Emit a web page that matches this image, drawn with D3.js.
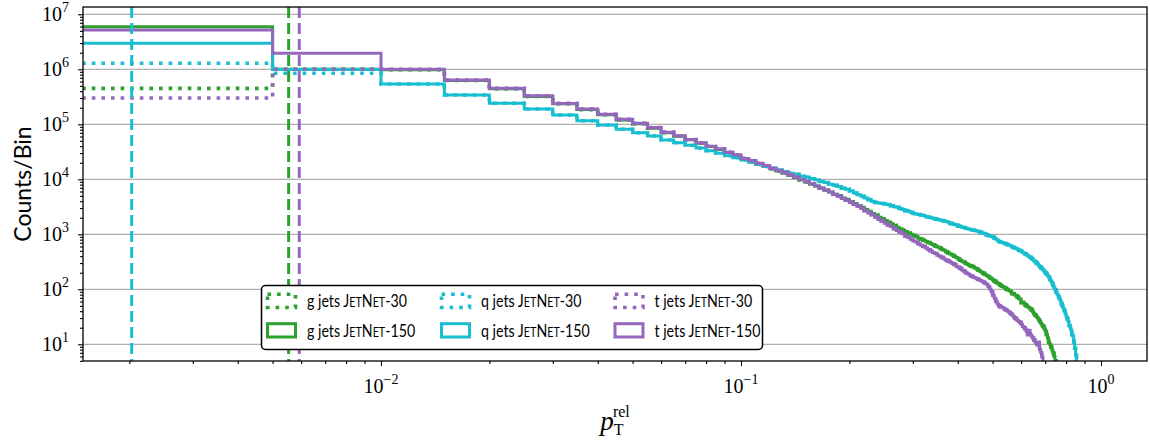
<!DOCTYPE html>
<html>
<head>
<meta charset="utf-8">
<script src="https://cdn.jsdelivr.net/npm/d3@7"></script>
<style>
  body { margin: 0; background: #fff; }
  svg { display: block; }
</style>
</head>
<body>
<div id="wrapper"></div>
<script>
// histogram bins: uniform width in p_T^rel, starting at 0
const binWidth = 0.005;

// first two bins differ between JetNet-30 and JetNet-150, the rest overlap
const g30Head = [450000, 1000000];
const g150Head = [5960000, 1000000];
const gTail = [980000, 625000, 442000, 320000, 236000, 185000, 149000, 120000, 102000, 84700,
  70000, 60700, 52100, 45200, 39400, 34800, 30600, 27000, 23400, 21400,
  19100, 17400, 15500, 14100, 12900, 11700, 10700, 9770, 8910, 8130,
  7590, 6920, 6310, 5890, 5370, 5010, 4570, 4270, 3890, 3630,
  3310, 3090, 2820, 2630, 2400, 2240, 2040, 1910, 1780, 1660,
  1550, 1450, 1350, 1260, 1200, 1120, 1050, 1000, 955, 912,
  851, 813, 776, 741, 708, 676, 646, 617, 589, 562,
  537, 513, 479, 457, 437, 417, 398, 380, 355, 339,
  324, 309, 295, 282, 269, 263, 257, 245, 234, 224,
  214, 204, 195, 186, 178, 170, 162, 155, 148, 141,
  135, 129, 123, 117, 112, 110, 105, 100, 98, 95,
  91, 83, 85, 79, 76, 72, 68, 66, 57, 59,
  56, 52, 50, 48, 46, 44, 42, 39, 36, 34,
  32, 30, 28, 26, 24, 22, 21, 19, 17, 15,
  13, 11, 10, 8.9, 7.9, 6.9, 6.0, 5.0, 4.0];

const q30Head = [1290000, 850000];
const q150Head = [2970000, 990000];
const qTail = [540000, 341000, 241000, 190000, 148000, 116000, 97000, 81100, 70300, 61200,
  51900, 46200, 41500, 37100, 33100, 29700, 26900, 24700, 22400, 20400,
  18600, 17000, 15800, 14800, 13800, 12900, 12300, 11500, 11000, 10200,
  9770, 9120, 8710, 8130, 7760, 7410, 6920, 6610, 6170, 5620,
  5250, 4900, 4570, 4270, 3980, 3800, 3720, 3630, 3550, 3470,
  3310, 3160, 3090, 2950, 2820, 2690, 2630, 2510, 2400, 2340,
  2290, 2240, 2190, 2090, 2040, 2000, 1950, 1910, 1860, 1820,
  1780, 1740, 1700, 1660, 1580, 1550, 1510, 1480, 1410, 1380,
  1350, 1320, 1290, 1260, 1230, 1200, 1190, 1170, 1150, 1120,
  1100, 1070, 1050, 1020, 977, 955, 933, 912, 891, 851,
  813, 776, 741, 724, 708, 692, 676, 661, 646, 631,
  617, 589, 575, 562, 550, 537, 513, 501, 490, 468,
  457, 437, 427, 407, 389, 380, 363, 347, 331, 316,
  302, 288, 275, 257, 245, 234, 224, 214, 200, 191,
  178, 166, 151, 141, 129, 117, 107, 98, 89, 81,
  74, 68, 62, 55, 50, 45, 41, 36, 32, 29,
  26, 22, 20, 18, 15, 14, 11, 8.5, 6.3, 4.2];

const t30Head = [300000, 1000000];
const t150Head = [5200000, 1950000];
const tTail = [1000000, 640000, 450000, 330000, 240000, 190000, 152000, 123000, 104000, 87000,
  72000, 62000, 53000, 46000, 40000, 36000, 31000, 28000, 24000, 22000,
  19500, 17800, 15800, 14500, 13200, 12000, 11000, 10000, 9120, 8320,
  7590, 6920, 6310, 5890, 5370, 4900, 4470, 4170, 3800, 3470,
  3240, 2950, 2690, 2450, 2240, 2040, 1860, 1740, 1580, 1480,
  1380, 1260, 1170, 1100, 1020, 933, 871, 813, 759, 724,
  676, 631, 603, 562, 525, 501, 468, 447, 417, 398,
  380, 355, 339, 324, 309, 295, 282, 263, 251, 240,
  224, 214, 200, 191, 182, 174, 166, 162, 155, 151,
  145, 141, 135, 129, 123, 112, 101, 90, 79, 69,
  60, 54, 50, 48, 47, 45, 43, 42, 40, 38,
  36, 34, 32, 30, 29, 27, 26, 25, 23, 21,
  20, 19, 17, 15, 18, 15, 14, 13, 12, 11,
  10.5, 9.8, 11, 8.0, 7.1, 5.8, 4.2];

// vertical dashed reference lines
const cutClasses = ['q', 'g', 't'];
const cutValues = [0.00203, 0.00554, 0.00593];

const classNames = ['g', 'q', 't'];
const classColors = ['#2ca02c', '#17becf', '#9467bd'];
const runNames = ['30', '150'];

const yMajorTicks = [1e1, 1e2, 1e3, 1e4, 1e5, 1e6, 1e7];
const xMajorTicks = [1e-2, 1e-1, 1e0];

const series = [
  { cls: 'g', run: '30', counts: g30Head.concat(gTail) },
  { cls: 'g', run: '150', counts: g150Head.concat(gTail) },
  { cls: 'q', run: '30', counts: q30Head.concat(qTail) },
  { cls: 'q', run: '150', counts: q150Head.concat(qTail) },
  { cls: 't', run: '30', counts: t30Head.concat(tTail) },
  { cls: 't', run: '150', counts: t150Head.concat(tTail) }
];

const color = d3.scaleOrdinal().domain(classNames).range(classColors);

const dimensions = {
  width: 1150,
  height: 443,
  margin: { top: 7, right: 3, bottom: 82, left: 83 }
};
dimensions.boundedWidth = dimensions.width - dimensions.margin.left - dimensions.margin.right;
dimensions.boundedHeight = dimensions.height - dimensions.margin.top - dimensions.margin.bottom;

const svg = d3.select('#wrapper')
  .append('svg')
  .attr('width', dimensions.width)
  .attr('height', dimensions.height);

const bounds = svg.append('g')
  .attr('transform', `translate(${dimensions.margin.left},${dimensions.margin.top})`);

const xScale = d3.scaleLog()
  .domain([0.001487, 1.342])
  .range([0, dimensions.boundedWidth]);

const yScale = d3.scaleLog()
  .domain([4.97, 1.357e7])
  .range([dimensions.boundedHeight, 0]);

svg.append('defs').append('clipPath')
  .attr('id', 'plot-clip')
  .append('rect')
  .attr('width', dimensions.boundedWidth)
  .attr('height', dimensions.boundedHeight);

// horizontal grid
bounds.append('g')
  .selectAll('line')
  .data(yMajorTicks)
  .join('line')
  .attr('x1', 0)
  .attr('x2', dimensions.boundedWidth)
  .attr('y1', d => yScale(d))
  .attr('y2', d => yScale(d))
  .attr('stroke', '#b0b0b0')
  .attr('stroke-width', 1.2);

const plot = bounds.append('g').attr('clip-path', 'url(#plot-clip)');

const xPos = e => e > 0 ? xScale(e) : -20;
const yPos = c => c > 0 ? yScale(c) : dimensions.boundedHeight + 20;

const stepLine = d3.line()
  .x(d => xPos(d.edge))
  .y(d => yPos(d.count))
  .curve(d3.curveStepAfter);

series.forEach(s => {
  const pts = s.counts.map((c, i) => ({ edge: i * binWidth, count: c }));
  const n = s.counts.length;
  pts.push({ edge: n * binWidth, count: s.counts[n - 1] });
  pts.push({ edge: n * binWidth, count: 0 });
  plot.append('path')
    .attr('d', stepLine(pts))
    .attr('fill', 'none')
    .attr('stroke', color(s.cls))
    .attr('stroke-width', s.run === '30' ? 3.6 : 3)
    .attr('stroke-dasharray', s.run === '30' ? '3.6,6' : null)
    .attr('stroke-linejoin', 'miter');
});

plot.append('g')
  .selectAll('line')
  .data(cutValues)
  .join('line')
  .attr('x1', d => xScale(d))
  .attr('x2', d => xScale(d))
  .attr('y1', 0)
  .attr('y2', dimensions.boundedHeight)
  .attr('stroke', (d, i) => color(cutClasses[i]))
  .attr('stroke-width', 3)
  .attr('stroke-dasharray', '11,5');

// axes
const minorTicks = (lo, hi) => {
  const out = [];
  for (let p = Math.floor(Math.log10(lo)); p <= Math.ceil(Math.log10(hi)); p++) {
    for (let m = 2; m <= 9; m++) {
      const v = m * Math.pow(10, p);
      if (v >= lo && v <= hi) out.push(v);
    }
  }
  return out;
};

const tickFont = "'Liberation Serif', 'DejaVu Serif', serif";

bounds.append('g')
  .call(d3.axisLeft(yScale).tickValues(yMajorTicks).tickSize(5).tickFormat(''));
bounds.append('g')
  .call(d3.axisLeft(yScale).tickValues(minorTicks(...yScale.domain())).tickSize(3).tickFormat(''));

bounds.append('g')
  .attr('transform', `translate(0,${dimensions.boundedHeight})`)
  .call(d3.axisBottom(xScale).tickValues(xMajorTicks).tickSize(5).tickFormat(''));
bounds.append('g')
  .attr('transform', `translate(0,${dimensions.boundedHeight})`)
  .call(d3.axisBottom(xScale).tickValues(minorTicks(...xScale.domain())).tickSize(3).tickFormat(''));

bounds.selectAll('.domain').remove();
bounds.selectAll('.tick line').attr('stroke', '#000').attr('stroke-width', 1.1);

// frame
bounds.append('rect')
  .attr('width', dimensions.boundedWidth)
  .attr('height', dimensions.boundedHeight)
  .attr('fill', 'none')
  .attr('stroke', '#000')
  .attr('stroke-width', 1.3);

const yLabels = bounds.append('g')
  .selectAll('text')
  .data(yMajorTicks)
  .join('text')
  .attr('x', -14)
  .attr('y', d => yScale(d) + 7)
  .attr('text-anchor', 'end')
  .style('font-family', tickFont)
  .style('font-size', '20px')
  .attr('fill', '#000');
yLabels.append('tspan').text('10');
yLabels.append('tspan')
  .attr('dy', -9)
  .style('font-size', '14px')
  .text(d => Math.round(Math.log10(d)));

const xLabels = bounds.append('g')
  .selectAll('text')
  .data(xMajorTicks)
  .join('text')
  .attr('x', d => xScale(d))
  .attr('y', dimensions.boundedHeight + 32)
  .attr('text-anchor', 'middle')
  .style('font-family', tickFont)
  .style('font-size', '20px')
  .attr('fill', '#000');
xLabels.append('tspan').text('10');
xLabels.append('tspan')
  .attr('dy', -9)
  .style('font-size', '14px')
  .text(d => {
    const p = Math.round(Math.log10(d));
    return p < 0 ? '\u2212' + (-p) : String(p);
  });

// axis titles
const sansFont = "Lato, 'Noto Sans', sans-serif";

bounds.append('text')
  .attr('transform', `translate(${-dimensions.margin.left + 31},${dimensions.boundedHeight / 2}) rotate(-90)`)
  .attr('text-anchor', 'middle')
  .style('font-family', sansFont)
  .style('font-size', '23px')
  .attr('fill', '#000')
  .text('Counts/Bin');

const xTitle = bounds.append('text')
  .attr('x', dimensions.boundedWidth / 2)
  .attr('y', dimensions.boundedHeight + 69)
  .attr('text-anchor', 'middle')
  .style('font-family', tickFont)
  .attr('fill', '#000');
xTitle.append('tspan').style('font-style', 'italic').style('font-size', '27px').text('p');
xTitle.append('tspan').attr('dy', 5).style('font-size', '16px').text('T');
xTitle.append('tspan').attr('dx', -10).attr('dy', -18).style('font-size', '16px').text('rel');

// legend
const legend = svg.append('g');
legend.append('rect')
  .attr('x', 261.5)
  .attr('y', 285.5)
  .attr('width', 501)
  .attr('height', 64)
  .attr('rx', 4)
  .attr('fill', '#fff')
  .attr('stroke', '#000')
  .attr('stroke-width', 1.5);

const colX = [266, 440, 613.5];
const rowY = [294.2, 323.7];

series.forEach(s => {
  const col = classNames.indexOf(s.cls);
  const row = runNames.indexOf(s.run);
  const x0 = colX[col];
  const y0 = rowY[row];
  legend.append('rect')
    .attr('x', x0 + 1.5)
    .attr('y', y0)
    .attr('width', 28)
    .attr('height', 13.3)
    .attr('fill', 'none')
    .attr('stroke', color(s.cls))
    .attr('stroke-width', s.run === '30' ? 3.6 : 3)
    .attr('stroke-dasharray', s.run === '30' ? '3.6,6' : null);
  const t = legend.append('text')
    .attr('transform', `translate(${x0 + 41},${y0 + 13}) scale(0.86,1)`)
    .style('font-family', sansFont)
    .style('font-size', '16.5px')
    .attr('fill', '#000');
  t.append('tspan').text(`${s.cls} jets J`);
  t.append('tspan').style('font-size', '12.5px').text('ET');
  t.append('tspan').text('N');
  t.append('tspan').style('font-size', '12.5px').text('ET');
  t.append('tspan').text(`-${s.run}`);
});
</script>
</body>
</html>
